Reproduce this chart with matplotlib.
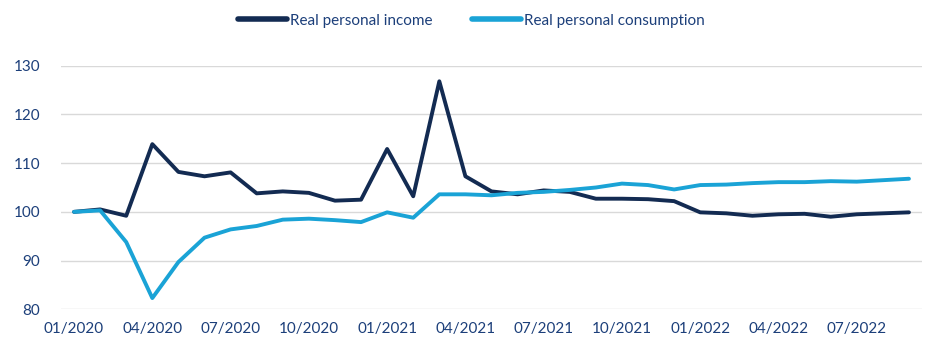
import matplotlib.pyplot as plt

plt.rcParams['font.family'] = ['Lato', 'DejaVu Sans']

# monthly, 01/2020 .. 09/2022 (index 01/2020 = 100)
months = [f"{m:02d}/{y}" for y in (2020, 2021, 2022) for m in range(1, 13)][:33]

income = [100.0, 100.5, 99.2, 113.9, 108.2, 107.3, 108.1, 103.8, 104.2, 103.9,
          102.3, 102.5, 112.9, 103.2, 126.8, 107.3, 104.2, 103.6, 104.4, 104.1,
          102.7, 102.7, 102.6, 102.2, 99.9, 99.7, 99.2, 99.5, 99.6, 99.0,
          99.5, 99.7, 99.9]
consumption = [100.0, 100.3, 93.8, 82.3, 89.7, 94.7, 96.4, 97.1, 98.4, 98.6,
               98.3, 97.9, 99.9, 98.8, 103.6, 103.6, 103.4, 103.9, 104.1, 104.5,
               105.0, 105.8, 105.5, 104.6, 105.5, 105.6, 105.9, 106.1, 106.1, 106.3,
               106.2, 106.5, 106.8]

navy = '#132B52'
light = '#1AA3D6'
txt = '#1C3F7A'

fig = plt.figure(figsize=(9.28, 3.54), dpi=100)
ax = fig.add_axes([61/928, 1 - 309.3/354, (922-61)/928, (309.3-65.7)/354])

x = range(len(months))
ax.plot(x, income, color=navy, lw=2.8, label='Real personal income', solid_capstyle='round')
ax.plot(x, consumption, color=light, lw=2.8, label='Real personal consumption', solid_capstyle='round')

ax.set_xlim(-0.5, 32.5)
ax.set_ylim(80, 130)
ax.set_yticks(range(80, 131, 10))
ax.set_xticks(list(x)[::3])
ax.set_xticklabels(months[::3])
ax.grid(axis='y', color='#D9D9D9', lw=1)
ax.set_axisbelow(True)
for s in ax.spines.values():
    s.set_visible(False)
ax.tick_params(length=0, colors=txt, labelsize=11)
ax.tick_params(axis='y', pad=15)
ax.tick_params(axis='x', pad=9)

leg = fig.legend(loc='upper center', bbox_to_anchor=(0.508, 1.0), ncol=2, frameon=False,
                 fontsize=11, labelcolor=txt, handlelength=3.2, handletextpad=0.2,
                 columnspacing=2.6)
for h in leg.get_lines():
    h.set_linewidth(4)

fig.savefig('out.png', dpi=100)
